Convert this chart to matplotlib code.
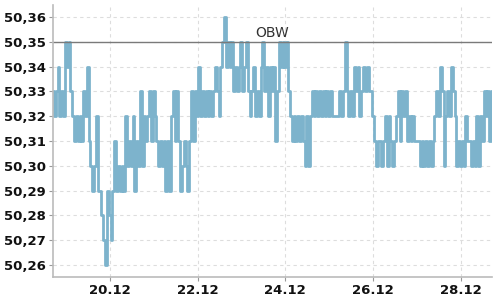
import numpy as np
import pandas as pd
import matplotlib
matplotlib.use("Agg")
import matplotlib.pyplot as plt
import matplotlib.dates as mdates
from matplotlib.ticker import FuncFormatter
from matplotlib.transforms import blended_transform_factory

plt.rcParams["path.simplify"] = False

# hourly quotes in hundredths above 50.00, starting 18.12 17:00
seg_a = [33, 32, 33, 34, 32, 33, 32, 35, 34, 35, 33, 32, 31, 32, 31, 32, 31, 33, 32, 34,
         31, 30, 29, 30, 32, 29, 29, 28, 27, 26, 29, 28, 27, 29, 31, 29, 30, 29, 30, 29,
         32, 30, 31, 30, 32, 29, 31, 30]
seg_b = [33, 30, 32, 31, 32, 33, 31, 33, 32, 31, 30, 31, 30, 31, 29, 31, 29, 32, 33, 31,
         33, 31, 29, 30, 31, 30, 29, 31, 33, 31, 33, 32, 34, 32, 33, 32, 33, 32, 33, 32,
         33, 34, 33, 32, 34, 35, 36, 34]
seg_c = [35, 34, 35, 33, 34, 33, 34, 35, 33, 34, 35, 33, 32, 33, 34, 32, 33, 32, 34, 35,
         33, 34, 32, 34, 33, 34, 31, 33, 35, 34, 35, 34, 35, 33, 32, 31, 32, 31, 32, 31,
         32, 31, 30, 32, 30, 32, 33, 32]
seg_d = [33, 32, 33, 32, 33, 32, 33, 32, 33, 32, 32, 32, 32, 33, 32, 33, 35, 33, 32, 33,
         32, 34, 33, 34, 32, 33, 34, 33, 34, 33, 33, 32, 31, 30, 31, 31, 30, 31, 32, 30,
         32, 31, 30, 31, 32, 33, 31, 33]
seg_e = [32, 33, 31, 32, 31, 32, 31, 31, 31, 30, 31, 30, 31, 30, 31, 30, 31, 32, 33, 32,
         34, 33, 30, 32, 33, 32, 34, 33, 32, 30, 31, 30, 31, 30, 32, 31, 31, 30, 31, 30,
         32, 30, 32, 31, 33, 32, 33, 31, 33]

obw_level = 50.35
obw_label = "OBW"

cents = seg_a + seg_b + seg_c + seg_d + seg_e
prices = 50 + np.array(cents) / 100
times = pd.date_range("2023-12-18 17:00", periods=len(prices), freq="h")

fig = plt.figure(figsize=(5, 3), dpi=100)
ax = fig.add_axes([0.106, 0.077, 0.878, 0.906])

ax.plot(times, prices, color="#7db3cc", lw=2.0, drawstyle="steps-mid")
ax.axhline(obw_level, color="#7a7a7a", lw=1)
trans = blended_transform_factory(ax.transAxes, ax.transData)
ax.text(0.5, obw_level + 0.0008, obw_label, transform=trans, ha="center", va="bottom",
        fontsize=10, color="#333333")

ax.set_xlim(times[0], times[-1])
ax.set_ylim(50.2552, 50.3648)
ax.set_yticks(np.arange(50.26, 50.365, 0.01))
ax.yaxis.set_major_formatter(FuncFormatter(lambda v, p: f"{v:.2f}".replace(".", ",")))
ax.xaxis.set_major_locator(mdates.DayLocator(bymonthday=[20, 22, 24, 26, 28]))
ax.xaxis.set_major_formatter(mdates.DateFormatter("%d.%m"))

ax.grid(True, color="#dddddd", lw=0.8, ls=(0, (3, 3)))
ax.set_axisbelow(True)
for s in ["top", "right"]:
    ax.spines[s].set_visible(False)
for s in ["left", "bottom"]:
    ax.spines[s].set_color("#bbbbbb")
    ax.spines[s].set_linewidth(1.2)
ax.tick_params(length=3, width=0.8, color="#999999", labelsize=9.5, pad=2)
for lab in ax.get_xticklabels() + ax.get_yticklabels():
    lab.set_fontweight("bold")
    lab.set_color("#111111")

fig.savefig("out.png", dpi=100)
